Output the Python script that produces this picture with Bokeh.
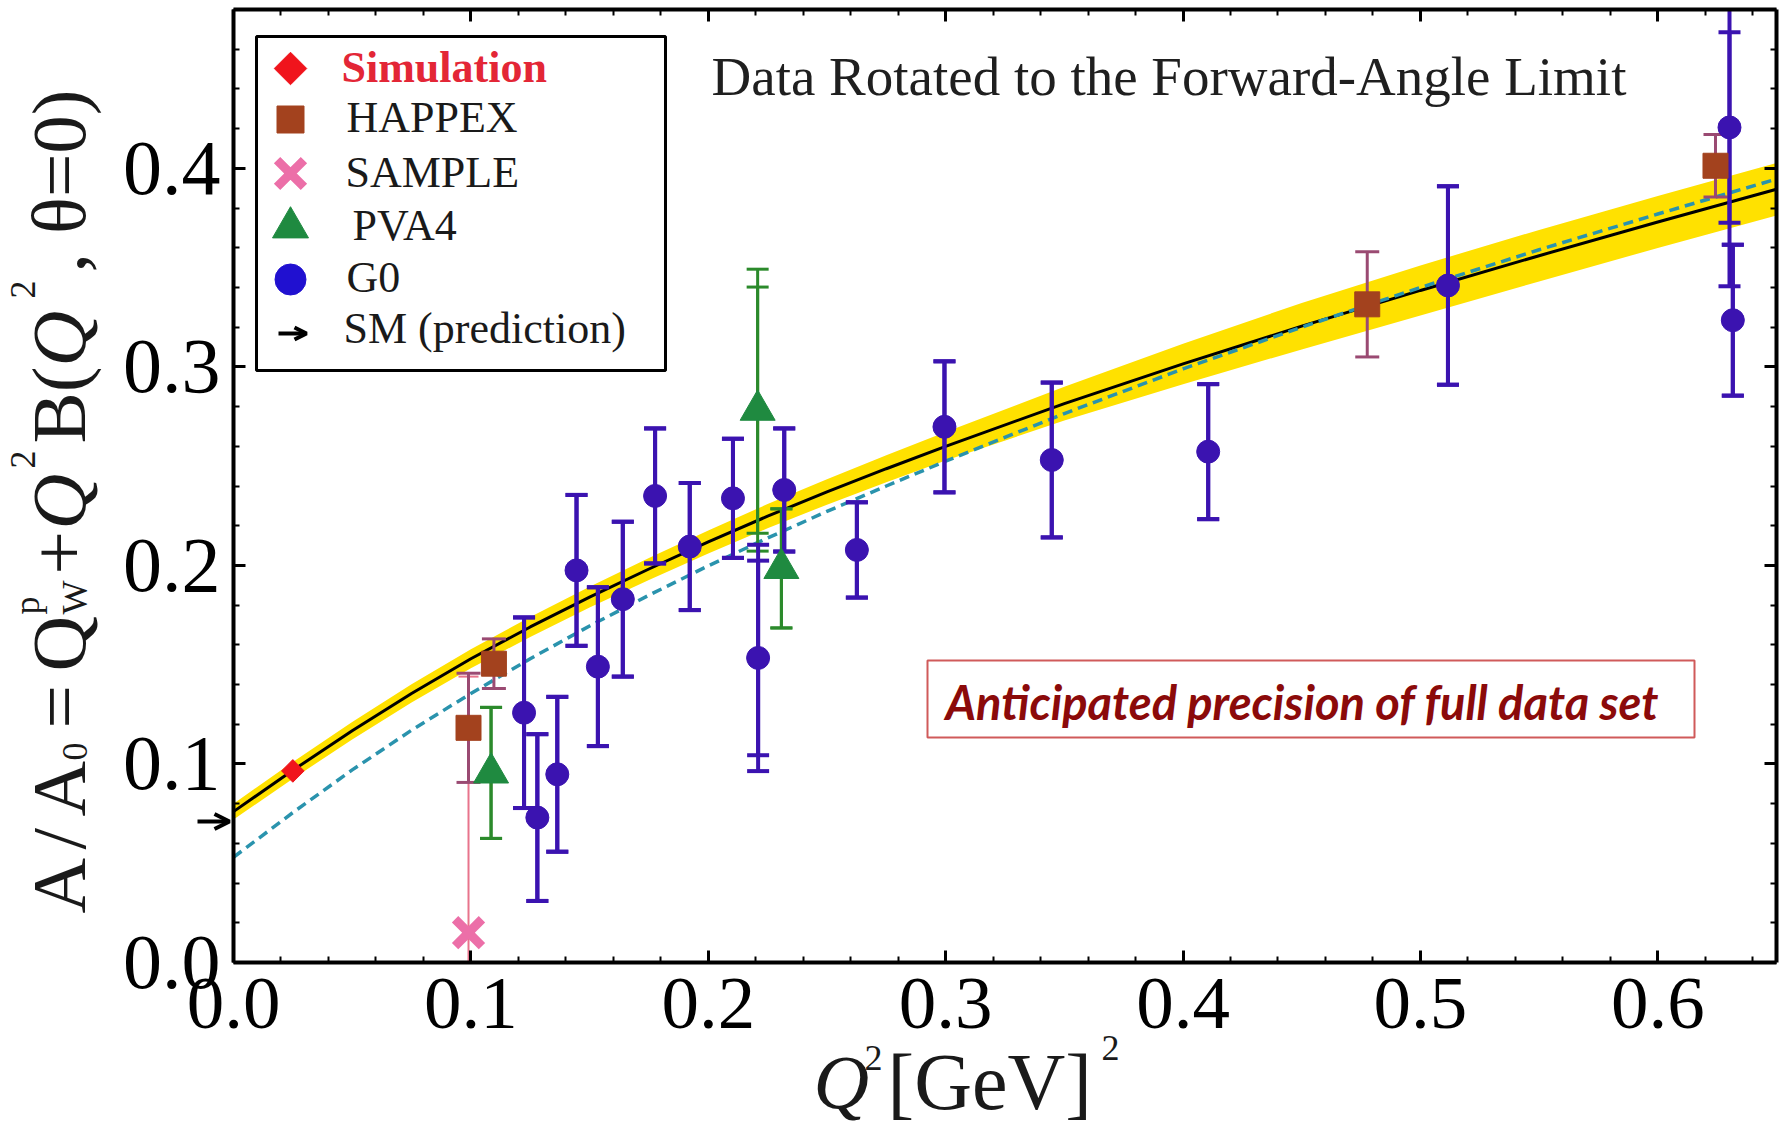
from math import pi
from bokeh.plotting import figure
from bokeh.models import (Range1d, LinearAxis, FixedTicker, PrintfTickFormatter,
                          CustomJSTickFormatter, Label, Arrow, OpenHead, BoxAnnotation)
from bokeh.embed import file_html
from bokeh.resources import INLINE

# ---------------- data ----------------
sim_q2 = [0.025]
sim_a = [0.0965]

happex_q2 = [0.0990, 0.1097, 0.4776, 0.6243]
happex_a = [0.1182, 0.1505, 0.3315, 0.4013]
happex_err = [0.0275, 0.0125, 0.0265, 0.0157]

sample_q2 = [0.0990]
sample_a = [0.0150]
sample_err = [0.129]

pva4_q2 = [0.1085, 0.2208, 0.2308]
pva4_a = [0.0955, 0.2782, 0.1985]
pva4_err = [0.033, 0.062, 0.030]
pva4_err_tot = [0.033, 0.071, 0.030]

g0_q2 = [0.1224, 0.1280, 0.1364, 0.1445, 0.1535, 0.1640, 0.1776, 0.1922, 0.2104,
         0.2210, 0.2320, 0.2626, 0.2995, 0.3447, 0.4106, 0.5116, 0.6302, 0.6316]
g0_a = [0.1258, 0.0730, 0.0948, 0.1975, 0.1490, 0.1830, 0.2350, 0.2095, 0.2338,
        0.1534, 0.2380, 0.2078, 0.2698, 0.2531, 0.2573, 0.3410, 0.4206, 0.3235]
g0_err = [0.048, 0.042, 0.039, 0.038, 0.040, 0.039, 0.034, 0.032, 0.030,
          0.049, 0.031, 0.024, 0.033, 0.039, 0.034, 0.050, 0.048, 0.038]
g0_err_tot = [0.048, 0.042, 0.039, 0.038, 0.040, 0.039, 0.034, 0.032, 0.030,
              0.057, 0.031, 0.024, 0.033, 0.039, 0.034, 0.050, 0.080, 0.038]

sm_qw = 0.0710

fit_q2 = [0.0, 0.025, 0.05, 0.075, 0.1, 0.125, 0.15, 0.175, 0.2, 0.225, 0.25, 0.275,
          0.3, 0.35, 0.4, 0.45, 0.5, 0.55, 0.6, 0.65]
fit_a = [0.0760, 0.0968, 0.1167, 0.1355, 0.1530, 0.1690, 0.1840, 0.1982, 0.2118, 0.2248,
         0.2370, 0.2487, 0.2600, 0.2815, 0.3015, 0.3205, 0.3385, 0.3560, 0.3730, 0.3895]
band_lo = [0.0720, 0.0926, 0.1123, 0.1309, 0.1482, 0.1640, 0.1788, 0.1927, 0.2060, 0.2187,
           0.2306, 0.2419, 0.2528, 0.2730, 0.2913, 0.3088, 0.3259, 0.3430, 0.3599, 0.3763]
band_hi = [0.0800, 0.1010, 0.1211, 0.1401, 0.1578, 0.1740, 0.1892, 0.2037, 0.2176, 0.2309,
           0.2434, 0.2555, 0.2672, 0.2900, 0.3117, 0.3322, 0.3511, 0.3690, 0.3861, 0.4027]
alt_a = [0.0530, 0.0755, 0.0970, 0.1170, 0.1355, 0.1530, 0.1695, 0.1850, 0.1998, 0.2138,
         0.2272, 0.2400, 0.2525, 0.2765, 0.2990, 0.3200, 0.3400, 0.3590, 0.3770, 0.3946]

x_ticks = [0.0, 0.1, 0.2, 0.3, 0.4, 0.5, 0.6]
y_ticks = [0.0, 0.1, 0.2, 0.3, 0.4]
title_text = "Data Rotated to the Forward-Angle Limit"
note_text = "Anticipated precision of full data set"
legend_names = ["Simulation", "HAPPEX", "SAMPLE", "PVA4", "G0", "SM (prediction)"]

# ---------------- geometry: the frame fills the canvas; the plot box is drawn by axes ----
W, H = 1783, 1128
XB = (0.0, 0.65)          # plot box limits (data)
YB = (0.0, 0.48)
BL, BT, BR, BBm = 233.0, 9.0, 1776.0, 962.0   # plot box in canvas pixels


def dx(px):
    return XB[0] + (px - BL) / (BR - BL) * (XB[1] - XB[0])


def dy(py):
    return YB[0] + (BBm - py) / (BBm - BT) * (YB[1] - YB[0])


SERIF = "Liberation Serif"

p = figure(width=W, height=H, x_range=Range1d(dx(0), dx(W)), y_range=Range1d(dy(H), dy(0)),
           x_axis_type=None, y_axis_type=None,
           output_backend="svg", toolbar_location=None,
           min_border_left=0, min_border_right=0, min_border_top=0, min_border_bottom=0,
           background_fill_color="white", border_fill_color="white")
p.grid.visible = False
p.outline_line_color = None

x_minor = [round(i * 0.02, 2) for i in range(33) if i % 5]
y_minor = [round(i * 0.02, 2) for i in range(25) if i % 5]

ax_bottom = LinearAxis(ticker=FixedTicker(ticks=x_ticks, minor_ticks=x_minor),
                       formatter=PrintfTickFormatter(format="%.1f"),
                       fixed_location=YB[0], bounds=XB)
ax_top = LinearAxis(ticker=FixedTicker(ticks=x_ticks, minor_ticks=x_minor),
                    formatter=CustomJSTickFormatter(code="return ''"),
                    fixed_location=YB[1], bounds=XB)
ax_left = LinearAxis(ticker=FixedTicker(ticks=y_ticks, minor_ticks=y_minor),
                     formatter=PrintfTickFormatter(format="%.1f"),
                     fixed_location=XB[0], bounds=YB)
ax_right = LinearAxis(ticker=FixedTicker(ticks=y_ticks, minor_ticks=y_minor),
                      formatter=CustomJSTickFormatter(code="return ''"),
                      fixed_location=XB[1], bounds=YB)
p.add_layout(ax_bottom, "below")
p.add_layout(ax_top, "above")
p.add_layout(ax_left, "left")
p.add_layout(ax_right, "right")

for ax in [ax_bottom, ax_top, ax_left, ax_right]:
    ax.axis_line_width = 4
    ax.axis_line_color = "black"
    ax.major_tick_in = 12
    ax.major_tick_out = 0
    ax.minor_tick_in = 6
    ax.minor_tick_out = 0
    ax.major_tick_line_width = 3
    ax.minor_tick_line_width = 2
    ax.major_tick_line_color = "black"
    ax.minor_tick_line_color = "black"
    ax.major_label_text_font = SERIF
    ax.major_label_text_color = "black"
ax_bottom.major_label_text_font_size = "75px"
ax_bottom.major_label_standoff = 16
ax_left.major_label_text_font_size = "78px"
ax_left.major_label_standoff = 13
for ax in [ax_top, ax_right]:
    ax.major_label_text_font_size = "1px"
    ax.major_label_standoff = 0

# ---------------- curves ----------------
p.varea(x=fit_q2, y1=band_lo, y2=band_hi, fill_color="#ffe100", fill_alpha=1.0)
p.line(fit_q2, fit_a, line_color="black", line_width=3)
p.line(fit_q2, alt_a, line_color="#2a93ad", line_width=3.5, line_dash="10 6")


# ---------------- error bars (kept inside the plot box) ----------------
def errbars(xs, ys, errs, color, lw, cap):
    lo = [y - e for y, e in zip(ys, errs)]
    hi = [y + e for y, e in zip(ys, errs)]
    lo_c = [max(v, YB[0]) for v in lo]
    hi_c = [min(v, YB[1]) for v in hi]
    p.segment(x0=xs, y0=lo_c, x1=xs, y1=hi_c, line_color=color, line_width=lw)
    cx = [x for x, v in zip(xs, lo) if v >= YB[0]] + [x for x, v in zip(xs, hi) if v <= YB[1]]
    cy = [v for v in lo if v >= YB[0]] + [v for v in hi if v <= YB[1]]
    p.scatter(x=cx, y=cy, marker="dash", size=cap, line_color=color, line_width=lw)


errbars(sample_q2, sample_a, sample_err, "#e8748c", 2, 20)
errbars(happex_q2, happex_a, happex_err, "#9a4a72", 3, 24)
errbars(pva4_q2, pva4_a, pva4_err_tot, "#2b8a2b", 3, 22)
errbars(pva4_q2, pva4_a, pva4_err, "#2b8a2b", 3, 22)
errbars(g0_q2, g0_a, g0_err_tot, "#3b13b0", 4, 22)
errbars(g0_q2, g0_a, g0_err, "#3b13b0", 4, 22)

# ---------------- markers ----------------
p.scatter(sample_q2, sample_a, marker="x", size=38, line_color="#ec6fa8", line_width=9)
p.scatter(happex_q2, happex_a, marker="square", size=25, fill_color="#a3421e",
          line_color="#a3421e")
p.scatter(pva4_q2, pva4_a, marker="triangle", size=35, fill_color="#1f8a40",
          line_color="#1f8a40")
p.scatter(g0_q2, g0_a, marker="circle", size=23, fill_color="#3b13b0", line_color="#3b13b0")
p.scatter(sim_q2, sim_a, marker="square", angle=pi / 4, size=16, fill_color="#f0141c",
          line_color="#f0141c")

# SM prediction arrow, just outside the axis
p.add_layout(Arrow(x_start=dx(197), y_start=sm_qw, x_end=dx(229), y_end=sm_qw,
                   line_color="black", line_width=4,
                   end=OpenHead(size=15, line_width=4, line_color="black")))

# ---------------- legend (drawn by hand) ----------------
p.add_layout(BoxAnnotation(left=dx(256), right=dx(665), top=dy(36), bottom=dy(370),
                           fill_alpha=0, line_color="black", line_alpha=1.0, line_width=3))
mx = dx(290)
p.scatter([mx], [dy(68)], marker="square", angle=pi / 4, size=23, fill_color="#f0141c",
          line_color="#f0141c")
p.scatter([mx], [dy(119)], marker="square", size=27, fill_color="#a3421e",
          line_color="#a3421e")
p.scatter([mx], [dy(173)], marker="x", size=38, line_color="#ec6fa8", line_width=9)
p.scatter([mx], [dy(227)], marker="triangle", size=36, fill_color="#1f8a40",
          line_color="#1f8a40")
p.scatter([mx], [dy(279)], marker="circle", size=31, fill_color="#2010d0",
          line_color="#2010d0")
p.add_layout(Arrow(x_start=dx(278), y_start=dy(333), x_end=dx(306), y_end=dy(333),
                   line_color="black", line_width=4,
                   end=OpenHead(size=12, line_width=4, line_color="black")))

TXT_DY = 17   # rendered text sits this much below the requested baseline
leg_x = [341, 346, 345, 352, 346, 343]
leg_base = [84, 134, 189, 242, 294, 345]
for i, name in enumerate(legend_names):
    first = i == 0
    p.add_layout(Label(x=dx(leg_x[i]), y=dy(leg_base[i] - TXT_DY), text=name,
                       text_font=SERIF, text_font_size="44px",
                       text_font_style="bold" if first else "normal",
                       text_color="#e32636" if first else "#1a1a1a",
                       text_baseline="alphabetic", text_align="left"))

# ---------------- title and note ----------------
p.add_layout(Label(x=dx(711), y=dy(93 - TXT_DY), text=title_text, text_font=SERIF,
                   text_font_size="55px", text_color="#1f1f1f",
                   text_baseline="alphabetic", text_align="left"))
p.add_layout(BoxAnnotation(left=dx(927), right=dx(1694), top=dy(660), bottom=dy(737),
                           fill_alpha=0, line_color="#d05a5a", line_alpha=1.0,
                           line_width=2))
p.add_layout(Label(x=dx(945), y=dy(718 - TXT_DY), text=note_text, text_font="Lato",
                   text_font_size="47px", text_font_style="bold italic",
                   text_color="#8b0a0a", text_baseline="alphabetic", text_align="left"))

# ---------------- axis titles (built from pieces for sub/superscripts) ----------------
BIG, SUB = "77px", "36px"
# y title: (text, start y px, baseline shift px, size, style)
ypieces = [
    ("A", 913, 0, BIG, "normal"),
    ("/", 849, 0, BIG, "normal"),
    ("A", 816, 0, BIG, "normal"),
    ("0", 760, 16, SUB, "normal"),
    ("=", 728, 0, BIG, "normal"),
    ("Q", 671, 0, BIG, "normal"),
    ("p", 614, -32, SUB, "normal"),
    ("W", 614, 16, SUB, "normal"),
    ("+", 574, 0, BIG, "normal"),
    ("Q", 529, 0, BIG, "italic"),
    ("2", 468, -36, SUB, "normal"),
    ("B(", 443, 0, BIG, "normal"),
    ("Q", 366, 0, BIG, "italic"),
    ("2", 298, -36, SUB, "normal"),
    (", \u03b8=0)", 272, 0, BIG, "normal"),
]
YBASE = 86 - 28
for txt, sy, shift, size, style in ypieces:
    p.add_layout(Label(x=dx(YBASE + shift), y=dy(sy), text=txt, angle=pi / 2,
                       text_font=SERIF, text_font_size=size, text_font_style=style,
                       text_color="#1a1a1a", text_baseline="alphabetic",
                       text_align="left"))

XBASE = 1098 - TXT_DY
xpieces = [
    ("Q", 813, 0, "77px", "italic"),
    ("2", 864, -24, SUB, "normal"),
    ("[GeV]", 887, 0, "80px", "normal"),
    ("2", 1101, -34, SUB, "normal"),
]
for txt, sx, shift, size, style in xpieces:
    p.add_layout(Label(x=dx(sx), y=dy(XBASE + shift), text=txt,
                       text_font=SERIF, text_font_size=size, text_font_style=style,
                       text_color="#1a1a1a", text_baseline="alphabetic",
                       text_align="left"))

open("out.html", "w").write(file_html(p, INLINE))
